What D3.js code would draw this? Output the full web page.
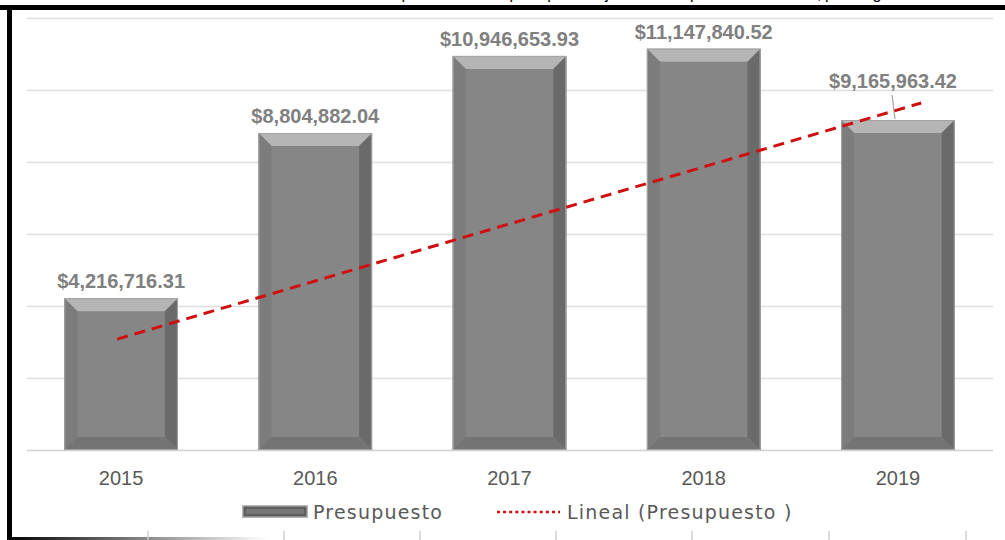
<!DOCTYPE html>
<html>
<head>
<meta charset="utf-8">
<script src="https://cdn.jsdelivr.net/npm/d3@7"></script>
<style>
  body { margin: 0; background: #fff; }
  svg { display: block; }
</style>
</head>
<body>
<div id="chart"></div>
<script>
// Data
var years = ['2015', '2016', '2017', '2018', '2019'];
var presupuesto = [4216716.31, 8804882.04, 10946653.93, 11147840.52, 9165963.42];
var yTicks = [0, 2000000, 4000000, 6000000, 8000000, 10000000, 12000000];
// trendline ends as drawn (year position, value)
var trendYears = [2014.98, 2019.12];
var trendValues = [3080000, 9640000];
var legendLabels = ['Presupuesto', 'Lineal (Presupuesto )'];
var titleText = 'Gráfica 1. Comportamiento del presupuesto ejercido en el periodo 2015-2019, por rango';

var width = 1005;
var height = 540;
var bevel = 13;

var svg = d3.select('#chart')
  .append('svg')
  .attr('width', width)
  .attr('height', height);

// cut-off title and page frame
svg.append('text')
  .attr('x', 300)
  .attr('y', -1)
  .attr('textLength', 590)
  .style('font-family', 'Liberation Sans, sans-serif')
  .style('font-size', '16px')
  .attr('fill', '#000')
  .text(titleText);

svg.append('rect').attr('x', 0).attr('y', 5).attr('width', width).attr('height', 5).attr('fill', '#000');
svg.append('rect').attr('x', 7).attr('y', 5).attr('width', 5).attr('height', 535).attr('fill', '#000');

var grad = svg.append('defs').append('linearGradient').attr('id', 'fade');
grad.append('stop').attr('offset', '0%').attr('stop-color', '#000');
grad.append('stop').attr('offset', '100%').attr('stop-color', '#000').attr('stop-opacity', 0);
svg.append('rect').attr('x', 7).attr('y', 537).attr('width', 260).attr('height', 3).attr('fill', 'url(#fade)');

// table column ticks under the chart
[148, 284, 420, 556, 692, 829, 966].forEach(function(x){
  svg.append('line')
    .attr('x1', x).attr('x2', x)
    .attr('y1', 531).attr('y2', 540)
    .attr('stroke', '#cfcfcf').attr('stroke-width', 1.5);
});

// scales
var x = d3.scaleBand()
  .domain(years)
  .range([24, 995])
  .paddingInner(0.415)
  .paddingOuter(0.2075);

var xYear = d3.scaleLinear()
  .domain([2015, 2019])
  .range([x('2015') + x.bandwidth() / 2, x('2019') + x.bandwidth() / 2]);

var y = d3.scaleLinear()
  .domain([0, 12000000])
  .range([450, 18]);

// gridlines
svg.append('g')
  .selectAll('line')
  .data(yTicks)
  .enter()
  .append('line')
  .attr('x1', 27).attr('x2', 993)
  .attr('y1', function(d){ return Math.round(y(d)) + 0.5; })
  .attr('y2', function(d){ return Math.round(y(d)) + 0.5; })
  .attr('stroke', function(d){ return d === 0 ? '#d0d0d0' : '#dedede'; })
  .attr('stroke-width', 1.3);

// bevelled bars
var bars = svg.append('g').selectAll('g').data(presupuesto).enter().append('g');

function face(sel, color, pts){
  sel.append('polygon')
    .attr('fill', color)
    .attr('points', function(d, i){ return pts(d, i).map(function(p){ return p.join(','); }).join(' '); });
}

function box(d, i){
  var x0 = x(years[i]);
  return { x0: x0, x1: x0 + x.bandwidth(), y0: y(d), y1: y(0) };
}

bars.append('rect')
  .attr('x', function(d, i){ return box(d, i).x0; })
  .attr('y', function(d){ return y(d); })
  .attr('width', x.bandwidth())
  .attr('height', function(d){ return y(0) - y(d); })
  .attr('fill', '#868686');

face(bars, '#b5b5b5', function(d, i){ var b = box(d, i);
  return [[b.x0, b.y0], [b.x1, b.y0], [b.x1 - bevel, b.y0 + bevel], [b.x0 + bevel, b.y0 + bevel]]; });
face(bars, '#7c7c7c', function(d, i){ var b = box(d, i);
  return [[b.x0, b.y0], [b.x0 + bevel, b.y0 + bevel], [b.x0 + bevel, b.y1 - bevel], [b.x0, b.y1]]; });
face(bars, '#6a6a6a', function(d, i){ var b = box(d, i);
  return [[b.x1, b.y0], [b.x1, b.y1], [b.x1 - bevel, b.y1 - bevel], [b.x1 - bevel, b.y0 + bevel]]; });
face(bars, '#747474', function(d, i){ var b = box(d, i);
  return [[b.x0, b.y1], [b.x0 + bevel, b.y1 - bevel], [b.x1 - bevel, b.y1 - bevel], [b.x1, b.y1]]; });

bars.append('rect')
  .attr('x', function(d, i){ return box(d, i).x0 + 0.5; })
  .attr('y', function(d){ return y(d) + 0.5; })
  .attr('width', x.bandwidth() - 1)
  .attr('height', function(d){ return y(0) - y(d) - 1; })
  .attr('fill', 'none')
  .attr('stroke', '#a3a3a3')
  .attr('stroke-width', 1);

// value labels
var fmt = d3.format('$,.2f');
var last = presupuesto.length - 1;

svg.append('line')
  .attr('x1', 892).attr('y1', 95)
  .attr('x2', 895).attr('y2', y(presupuesto[last]) - 1)
  .attr('stroke', '#a6a6a6').attr('stroke-width', 1.2);

svg.append('g')
  .selectAll('text')
  .data(presupuesto)
  .enter()
  .append('text')
  .attr('x', function(d, i){ return i === last ? 893 : x(years[i]) + x.bandwidth() / 2; })
  .attr('y', function(d, i){ return i === last ? 88 : y(d) - 10; })
  .attr('text-anchor', 'middle')
  .style('font-family', 'Liberation Sans Narrow, Liberation Sans, sans-serif')
  .style('font-weight', 'bold')
  .style('font-size', '20px')
  .attr('fill', '#808080')
  .text(function(d){ return fmt(d); });

// trendline
var trend = d3.line()
  .x(function(d, i){ return xYear(trendYears[i]); })
  .y(function(d){ return y(d); });

svg.append('path')
  .datum(trendValues)
  .attr('d', trend)
  .attr('fill', 'none')
  .attr('stroke', '#d01010')
  .attr('stroke-width', 3)
  .attr('stroke-dasharray', '11,7');

// x axis labels
svg.append('g')
  .selectAll('text')
  .data(years)
  .enter()
  .append('text')
  .attr('x', function(d){ return x(d) + x.bandwidth() / 2; })
  .attr('y', 485)
  .attr('text-anchor', 'middle')
  .style('font-family', 'Liberation Sans Narrow, Liberation Sans, sans-serif')
  .style('font-size', '20px')
  .attr('fill', '#595959')
  .text(function(d){ return d; });

// legend
var legend = svg.append('g');
legend.append('rect')
  .attr('x', 243).attr('y', 506)
  .attr('width', 64).attr('height', 11)
  .attr('fill', '#5e5e5e')
  .attr('stroke', '#9c9c9c')
  .attr('stroke-width', 1.5);
legend.append('rect')
  .attr('x', 246).attr('y', 509)
  .attr('width', 58).attr('height', 5)
  .attr('fill', '#777');
legend.append('line')
  .attr('x1', 497).attr('x2', 560)
  .attr('y1', 512).attr('y2', 512)
  .attr('stroke', '#d01010')
  .attr('stroke-width', 2.5)
  .attr('stroke-dasharray', '3,3.1');

legend.selectAll('text')
  .data(legendLabels)
  .enter()
  .append('text')
  .attr('x', function(d, i){ return i === 0 ? 313 : 567; })
  .attr('y', 519)
  .style('font-family', 'DejaVu Sans, sans-serif')
  .style('font-size', '19px')
  .style('letter-spacing', '1.2px')
  .attr('fill', '#595959')
  .text(function(d){ return d; });
</script>
</body>
</html>
